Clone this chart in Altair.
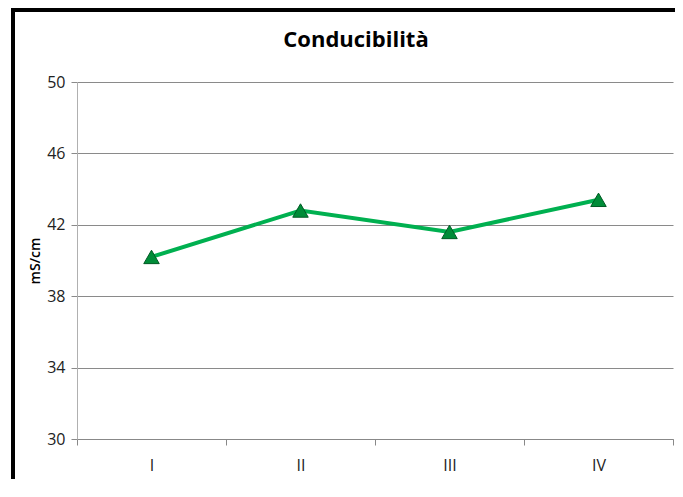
import altair as alt
import pandas as pd

categories = ["I", "II", "III", "IV"]
values = [40.2, 42.8, 41.6, 43.4]
y_ticks = [30, 34, 38, 42, 46, 50]

df = pd.DataFrame({"cat": categories, "val": values})

W, H = 596, 357
PAD_L, PAD_T = 69, 74

x_enc = alt.X("cat:N", sort=categories,
              scale=alt.Scale(paddingInner=0, paddingOuter=0),
              axis=alt.Axis(title=None, labelAngle=0, tickBand="extent", grid=False,
                            domainColor="#888888", tickColor="#888888", tickSize=6,
                            labelFont="Open Sans", labelFontSize=16, labelColor="#222222",
                            labelPadding=12))
y_enc = alt.Y("val:Q", scale=alt.Scale(domain=[30, 50], nice=False, zero=False),
              axis=alt.Axis(title="mS/cm", values=y_ticks, grid=True, gridColor="#8a8a8a",
                            domainColor="#b0b0b0", tickColor="#8a8a8a", tickSize=6,
                            labelFont="Open Sans", labelFontSize=16, labelColor="#222222",
                            labelPadding=6, titleFont="Open Sans", titleFontSize=14,
                            titleFontWeight=600, titleColor="#000000", titlePadding=4))

line = alt.Chart(df).mark_line(color="#00B050", strokeWidth=4).encode(x=x_enc, y=y_enc)
pts = alt.Chart(df).mark_point(shape="triangle-up", filled=True, size=240,
                                color="#008C38", stroke="#005A24", strokeWidth=1,
                                opacity=1).encode(x=x_enc, y=y_enc)

left_border = alt.Chart(df).mark_rule(color="black", strokeWidth=4).encode(
    x=alt.value(-64), y=alt.value(-80), y2=alt.value(H + 60))
top_border = alt.Chart(df).mark_rule(color="black", strokeWidth=4).encode(
    x=alt.value(-66), x2=alt.value(W + 20), y=alt.value(-72))

chart = alt.layer(left_border, top_border, line, pts).properties(
    width=W, height=H,
    title=alt.TitleParams("Conducibilità", font="Open Sans", fontSize=22, fontWeight="bold",
                          color="#000000", anchor="middle", dx=-19, offset=0, dy=52),
    autosize=alt.AutoSizeParams(type="none"),
    padding={"left": PAD_L, "top": PAD_T, "right": 2, "bottom": 40},
).configure_view(stroke=None)

chart.save("out.html", embed_options={"renderer": "svg", "actions": False})
